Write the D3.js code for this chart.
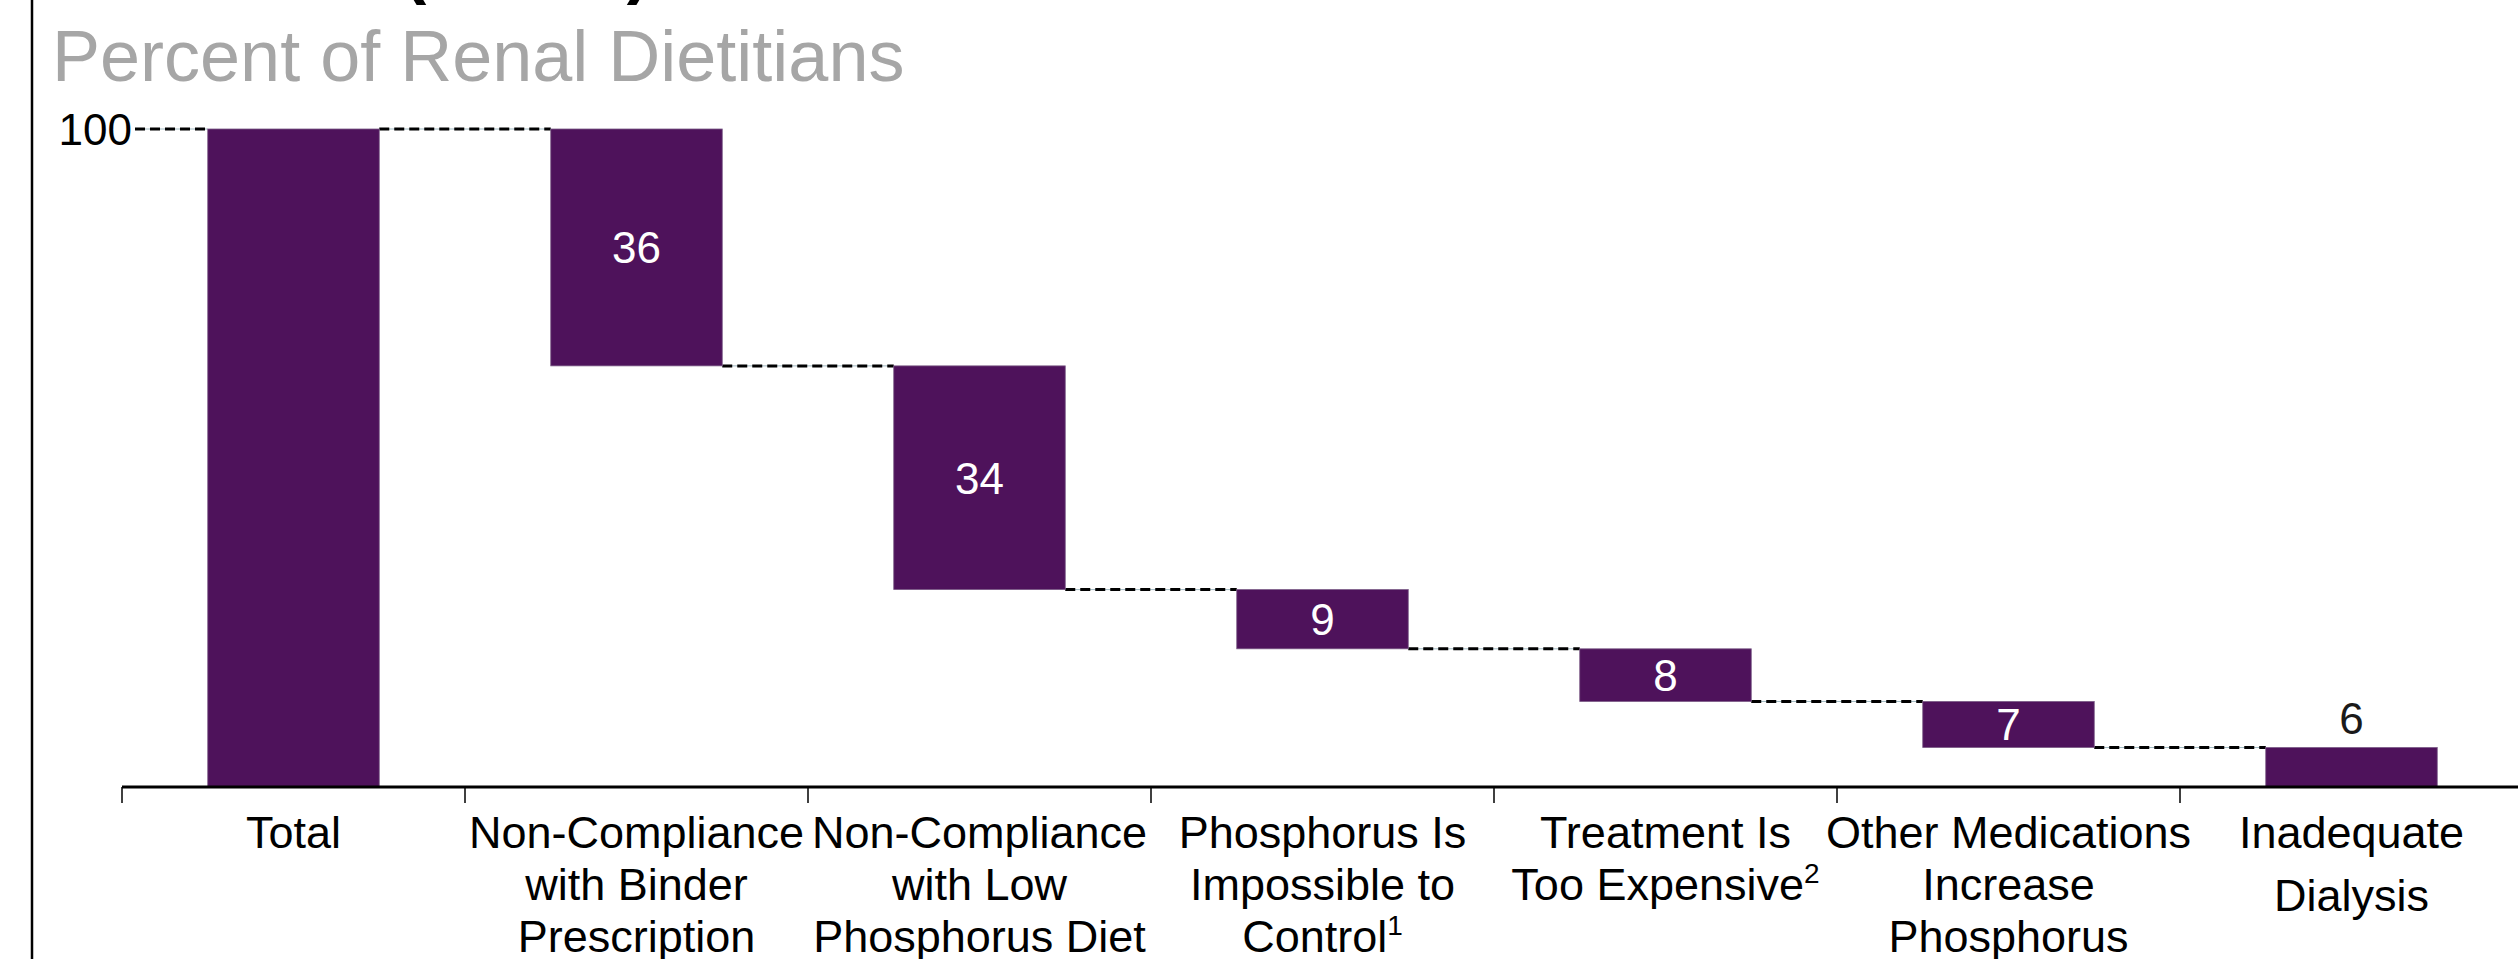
<!DOCTYPE html>
<html>
<head>
<meta charset="utf-8">
<script src="https://cdn.jsdelivr.net/npm/d3@7"></script>
<style>
  body { margin: 0; background: #fff; }
  text { font-family: "Liberation Sans", Arial, sans-serif; }
</style>
</head>
<body>
<div id="chart"></div>
<script>
// categories (label lines, "^" marks a superscript footnote)
const categories = ["Total", "Binder", "Diet", "Impossible", "Expensive", "Medications", "Dialysis"];
const labelLines = [
    ["Total"],
    ["Non-Compliance", "with Binder", "Prescription"],
    ["Non-Compliance", "with Low", "Phosphorus Diet"],
    ["Phosphorus Is", "Impossible to", "Control^1"],
    ["Treatment Is", "Too Expensive^2"],
    ["Other Medications", "Increase", "Phosphorus"],
    ["Inadequate", "Dialysis"]
];
// percent of renal dietitians
const values = [100, 36, 34, 9, 8, 7, 6];
const yTicks = [100];

const width = 2518;
const height = 959;
const purple = "#4e125b";

const svg = d3.select("#chart")
    .append("svg")
    .attr("width", width)
    .attr("height", height);

svg.append("rect").attr("width", width).attr("height", height).attr("fill", "#fff");

// x scale: bands, bars take half of each step
const x = d3.scaleBand()
    .domain(categories)
    .range([122, 122 + 7 * 343])
    .paddingInner(0.5)
    .paddingOuter(0.25);

const y = d3.scaleLinear()
    .domain([0, 100])
    .range([787, 129]);

// build waterfall segments
let running = values[0];
const segs = values.map((v, i) => {
    if (i === 0) return {cat: categories[i], v: v, top: v, bottom: 0};
    const s = {cat: categories[i], v: v, top: running, bottom: running - v};
    running -= v;
    return s;
});

// frame line on the left of the slide
svg.append("line")
    .attr("x1", 32).attr("x2", 32)
    .attr("y1", 0).attr("y2", height)
    .attr("stroke", "#000")
    .attr("stroke-width", 2.5);

// clipped title at the very top
svg.append("text")
    .attr("x", 403)
    .attr("y", -10)
    .attr("font-size", 70)
    .attr("font-weight", "bold")
    .attr("fill", "#000")
    .text("(n=100)");

// subtitle
svg.append("text")
    .attr("x", 52)
    .attr("y", 81)
    .attr("font-size", 72)
    .attr("fill", "#a6a6a6")
    .text("Percent of Renal Dietitians");

// connectors
const conn = [];
conn.push({x1: 135, x2: x(categories[0]), lvl: 100});
segs.forEach((s, i) => {
    if (i < segs.length - 1) {
        const lvl = i === 0 ? s.top : s.bottom;
        conn.push({x1: x(s.cat) + x.bandwidth(), x2: x(categories[i + 1]), lvl: lvl});
    }
});

svg.selectAll(".conn-bg")
    .data(conn)
    .enter()
    .append("line")
    .attr("x1", d => d.x1)
    .attr("x2", d => d.x2)
    .attr("y1", d => y(d.lvl))
    .attr("y2", d => y(d.lvl))
    .attr("stroke", "#9fb8c0")
    .attr("stroke-width", 1);

svg.selectAll(".conn")
    .data(conn)
    .enter()
    .append("line")
    .attr("x1", d => d.x1)
    .attr("x2", d => d.x2)
    .attr("y1", d => y(d.lvl))
    .attr("y2", d => y(d.lvl))
    .attr("stroke", "#000")
    .attr("stroke-width", 3)
    .attr("stroke-dasharray", "10,5");

// bars
svg.selectAll(".bar")
    .data(segs)
    .enter()
    .append("rect")
    .attr("class", "bar")
    .attr("x", d => x(d.cat))
    .attr("y", d => y(d.top))
    .attr("width", x.bandwidth())
    .attr("height", d => y(d.bottom) - y(d.top))
    .attr("fill", purple)
    .attr("stroke", "#7a5a86")
    .attr("stroke-width", 0.8);

// value labels (skip total; last one sits above its bar)
svg.selectAll(".val")
    .data(segs.slice(1))
    .enter()
    .append("text")
    .attr("x", d => x(d.cat) + x.bandwidth() / 2)
    .attr("y", (d, i) => i === segs.length - 2 ? y(d.top) - 14 : (y(d.top) + y(d.bottom)) / 2 + 16)
    .attr("text-anchor", "middle")
    .attr("font-size", 44)
    .attr("fill", (d, i) => i === segs.length - 2 ? "#1a1a1a" : "#fff")
    .text(d => d.v);

// y axis: only the 100 label
const yAxis = d3.axisLeft(y).tickValues(yTicks).tickSize(0).tickPadding(0);
const gy = svg.append("g")
    .attr("transform", "translate(132,0)")
    .call(yAxis);
gy.select(".domain").remove();
gy.selectAll("text")
    .attr("font-size", 44)
    .attr("font-family", "Liberation Sans, Arial, sans-serif")
    .attr("fill", "#000")
    .attr("dy", "0.36em");

// x axis line and boundary ticks
const gap = (x.step() - x.bandwidth()) / 2;
svg.append("line")
    .attr("x1", 122).attr("x2", width)
    .attr("y1", y(0)).attr("y2", y(0))
    .attr("stroke", "#000")
    .attr("stroke-width", 3);

const bounds = categories.map(c => x(c) - gap);
svg.selectAll(".tick-b")
    .data(bounds)
    .enter()
    .append("line")
    .attr("x1", d => d).attr("x2", d => d)
    .attr("y1", y(0)).attr("y2", y(0) + 16)
    .attr("stroke", "#000")
    .attr("stroke-width", 1.5);

// category labels
const lab = svg.selectAll(".lab")
    .data(categories)
    .enter()
    .append("text")
    .attr("text-anchor", "middle")
    .attr("font-size", 45)
    .attr("fill", "#000");

lab.each(function(c, i) {
    const t = d3.select(this);
    const lh = i === categories.length - 1 ? 63 : 52;
    labelLines[i].forEach((line, j) => {
        const parts = line.split("^");
        t.append("tspan")
            .attr("x", x(c) + x.bandwidth() / 2)
            .attr("y", 848 + j * lh)
            .text(parts[0]);
        if (parts[1]) {
            t.append("tspan")
                .attr("font-size", 28)
                .attr("dy", -17)
                .text(parts[1]);
        }
    });
});
</script>
</body>
</html>
